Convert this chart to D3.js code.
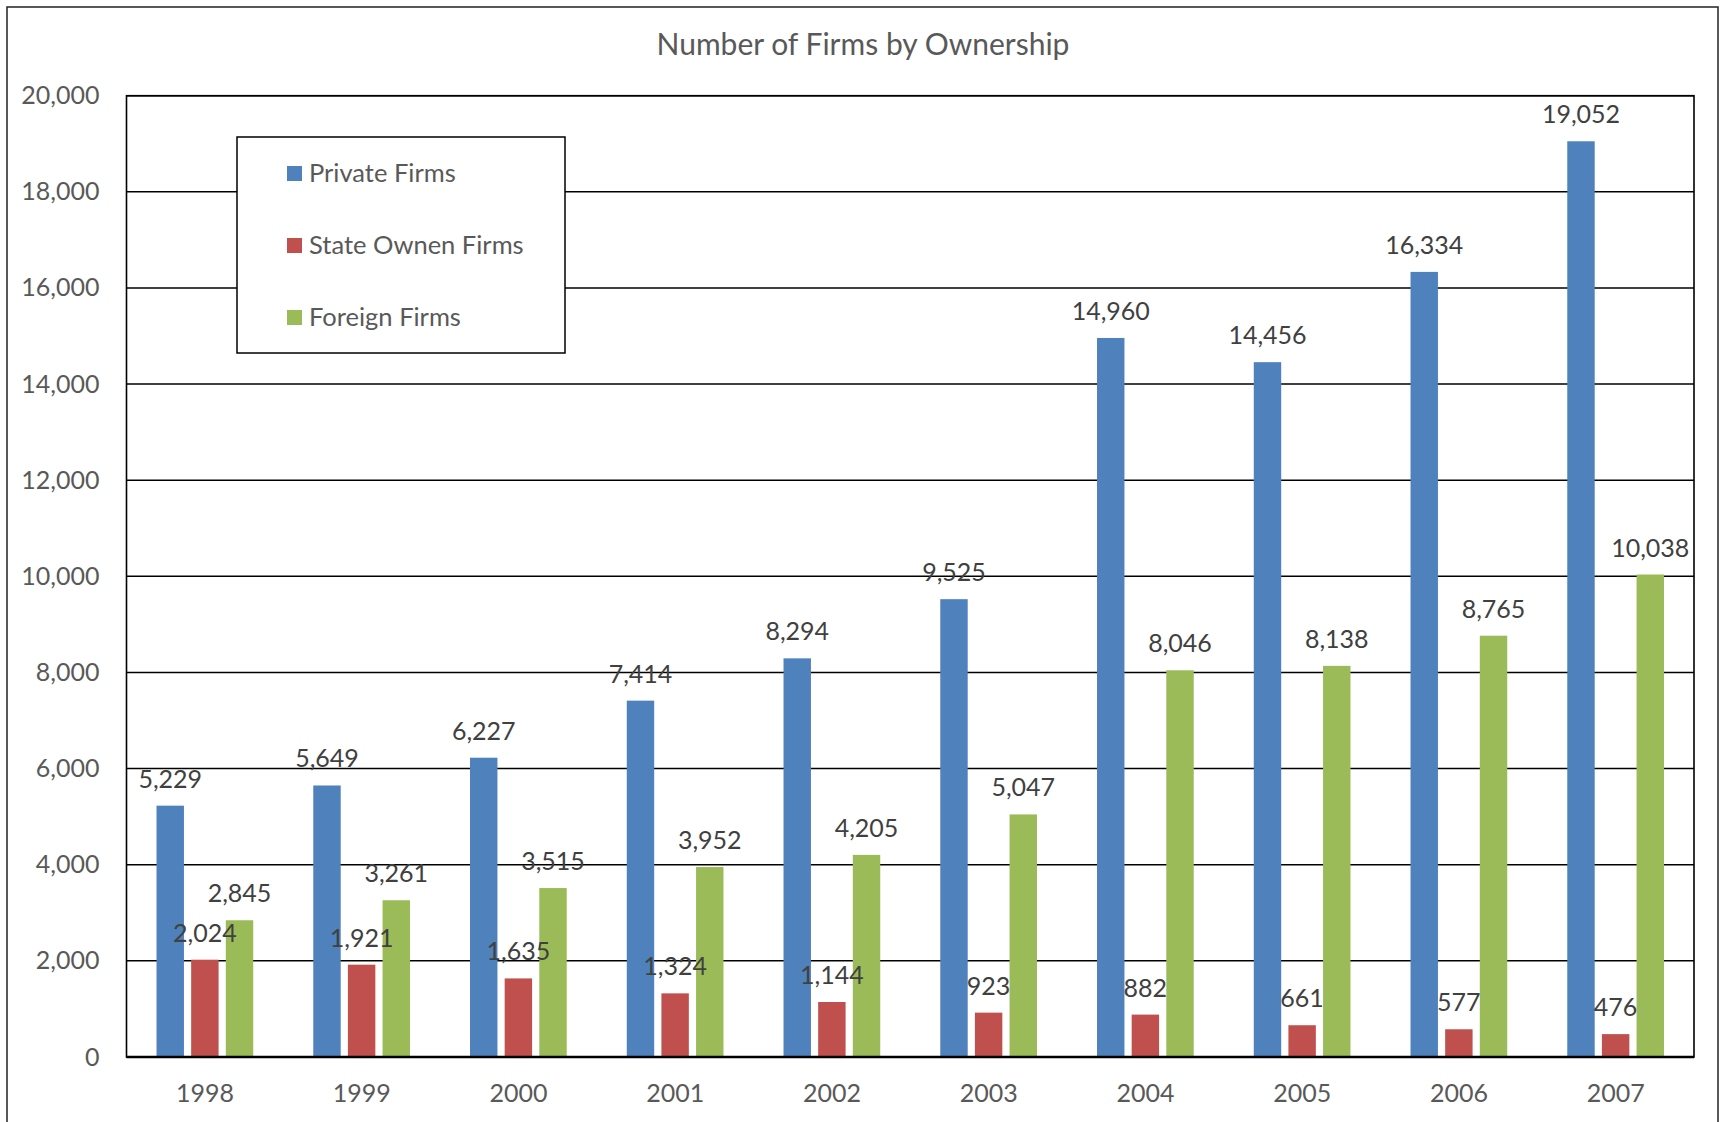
<!DOCTYPE html>
<html><head><meta charset="utf-8">
<script src="https://cdn.jsdelivr.net/npm/d3@7"></script>
<style>body{margin:0;background:#fff}svg{display:block}text{font-family:Lato,"Open Sans",sans-serif}</style>
</head><body><svg id="c" width="1725" height="1122"></svg>
<script>
const years = ["1998","1999","2000","2001","2002","2003","2004","2005","2006","2007"];
const seriesNames = ["Private Firms","State Ownen Firms","Foreign Firms"];
const privateFirms = [5229,5649,6227,7414,8294,9525,14960,14456,16334,19052];
const stateFirms = [2024,1921,1635,1324,1144,923,882,661,577,476];
const foreignFirms = [2845,3261,3515,3952,4205,5047,8046,8138,8765,10038];
const yTicks = [0,2000,4000,6000,8000,10000,12000,14000,16000,18000,20000];
const colors = ["#4F81BD","#C0504D","#9BBB59"];
const series = [privateFirms,stateFirms,foreignFirms];

const svg = d3.select("#c");
const L=126.5,R=1694,T=95.7,B=1057;
const fmt = d3.format(",");

svg.append("rect").attr("x",7).attr("y",7).attr("width",1711).attr("height",1140)
  .attr("fill","#fff").attr("stroke","#222").attr("stroke-width",1.5);

svg.append("text").attr("x",863).attr("y",55).attr("text-anchor","middle")
  .attr("font-size",30).attr("fill","#595959").text("Number of Firms by Ownership");

const x = d3.scaleBand().domain(years).range([L,R]).padding(0);
const y = d3.scaleLinear().domain([0,20000]).range([B,T]);
const bw = x.bandwidth();
const barW = bw*0.175, step = bw*0.221;

// gridlines
svg.append("g").selectAll("line").data(yTicks).join("line")
  .attr("x1",L).attr("x2",R).attr("y1",d=>y(d)).attr("y2",d=>y(d))
  .attr("stroke","#000").attr("stroke-width",1.5);
svg.append("rect").attr("x",L).attr("y",T).attr("width",R-L).attr("height",B-T)
  .attr("fill","none").attr("stroke","#000").attr("stroke-width",1.6);

// y axis labels
const yAxis = d3.axisLeft(y).tickValues(yTicks).tickFormat(fmt).tickSize(0).tickPadding(27);
const gy = svg.append("g").attr("transform",`translate(${L},0)`).call(yAxis);
gy.select(".domain").remove();
gy.selectAll("text").attr("font-size",25).attr("fill","#595959").attr("font-family","Lato");

// x axis labels
const xAxis = d3.axisBottom(x).tickSize(0).tickPadding(27);
const gx = svg.append("g").attr("transform",`translate(0,${B})`).call(xAxis);
gx.select(".domain").remove();
gx.selectAll("text").attr("font-size",25).attr("fill","#595959").attr("font-family","Lato");

// bars
const cxf = (si,i)=>x(years[i])+bw/2+(si-1)*step;
series.forEach((vals,si)=>{
  svg.append("g").selectAll("rect").data(vals).join("rect")
    .attr("x",(d,i)=>cxf(si,i)-barW/2).attr("width",barW)
    .attr("y",d=>y(d)).attr("height",d=>B-y(d))
    .attr("fill",colors[si]);
});

// x axis line
svg.append("line").attr("x1",L).attr("x2",R).attr("y1",B).attr("y2",B)
  .attr("stroke","#000").attr("stroke-width",2.5);

// labels on top
series.forEach((vals,si)=>{
  svg.append("g").selectAll("text").data(vals).join("text")
    .attr("x",(d,i)=>cxf(si,i)).attr("y",d=>y(d)-18)
    .attr("text-anchor","middle").attr("font-size",25).attr("fill","#404040")
    .text(d=>fmt(d));
});

// legend
const lg = svg.append("g");
lg.append("rect").attr("x",237).attr("y",137).attr("width",328).attr("height",216)
  .attr("fill","#fff").attr("stroke","#000").attr("stroke-width",1.5);
const ly = [173,245,317];
seriesNames.forEach((n,i)=>{
  lg.append("rect").attr("x",287).attr("y",ly[i]-7).attr("width",15).attr("height",15).attr("fill",colors[i]);
  lg.append("text").attr("x",309).attr("y",ly[i]+9).attr("font-size",25.5).attr("fill","#595959").text(n);
});
</script></body></html>
